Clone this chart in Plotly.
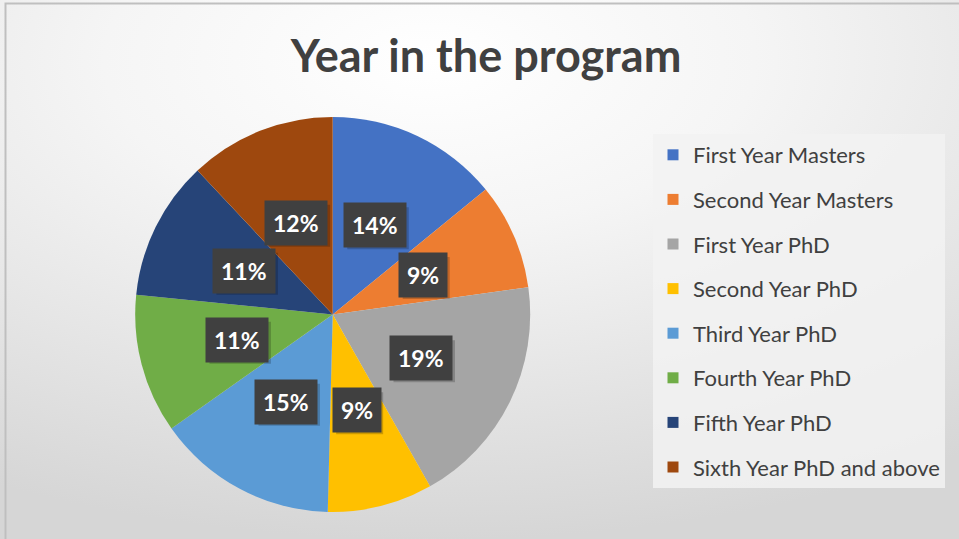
import math

import plotly.graph_objects as go

# -------- data --------
CATEGORIES = [
    "First Year Masters",
    "Second Year Masters",
    "First Year PhD",
    "Second Year PhD",
    "Third Year PhD",
    "Fourth Year PhD",
    "Fifth Year PhD",
    "Sixth Year PhD and above",
]
VALUES = [14.1, 8.7, 19.0, 8.6, 14.8, 11.4, 11.4, 12.0]
COLORS = ["#4472C4", "#ED7D31", "#A5A5A5", "#FFC000", "#5B9BD5", "#70AD47", "#264478", "#9E480E"]

TITLE = "Year in the program"

# -------- geometry (pixels) --------
W, H = 959, 539
CX, CY, R = 332.7, 314.5, 197.5
FONT = "Lato"
FG = "#404040"

total = sum(VALUES)
shares = [v / total for v in VALUES]

fig = go.Figure()

# soft radial backdrop, like the Office chart style
fig.add_trace(
    go.Scatter(
        x=[-500, 1360, 1360, -500, -500],
        y=[-420, -420, 540, 540, -420],
        mode="lines",
        line=dict(width=0),
        fill="toself",
        fillgradient=dict(
            type="radial",
            colorscale=[[0, "#ffffff"], [0.35, "#f5f5f5"], [1, "#d6d6d6"]],
        ),
        hoverinfo="skip",
        showlegend=False,
    )
)

# faint halo behind the pie
fig.add_shape(
    type="circle",
    xref="paper",
    yref="paper",
    x0=(CX - R - 3) / W,
    x1=(CX + R + 4) / W,
    y0=1 - (CY + R + 5) / H,
    y1=1 - (CY - R - 3) / H,
    fillcolor="rgba(0,0,0,0.07)",
    line=dict(width=0),
    layer="below",
)

fig.add_trace(
    go.Pie(
        labels=CATEGORIES,
        values=VALUES,
        sort=False,
        direction="clockwise",
        rotation=0,
        marker=dict(colors=COLORS, line=dict(width=0)),
        textinfo="none",
        hoverinfo="label+percent",
        showlegend=False,
        domain=dict(
            x=[(CX - R) / W, (CX + R) / W],
            y=[1 - (CY + R) / H, 1 - (CY - R) / H],
        ),
    )
)

# legend entries (one group each so the spacing can be opened up)
for cat, col in zip(CATEGORIES, COLORS):
    fig.add_trace(
        go.Scatter(
            x=[None],
            y=[None],
            mode="markers",
            marker=dict(symbol="square", size=11, color=col),
            name=cat,
            legendgroup=cat,
            showlegend=True,
        )
    )

# data labels: dark boxes halfway out along each slice
cum = 0.0
for s in shares:
    mid = (cum + s / 2) * 2 * math.pi
    cum += s
    lx = (CX + 0.5 * R * math.sin(mid)) / W
    ly = 1 - (CY - 0.5 * R * math.cos(mid)) / H
    txt = f"{round(s * 100)}%"
    # drop shadow (pixel-sized rect anchored on the label point)
    half_w = (len(txt) * 14.5 + 18) / 2
    fig.add_shape(
        type="rect", xref="paper", yref="paper",
        xsizemode="pixel", ysizemode="pixel", xanchor=lx, yanchor=ly,
        x0=-half_w + 3, x1=half_w + 3, y0=-21 - 3, y1=21 - 3,
        fillcolor="rgba(0,0,0,0.2)", line=dict(width=0), layer="above",
    )
    fig.add_annotation(
        x=lx, y=ly, xref="paper", yref="paper", text=txt, showarrow=False,
        xanchor="center", yanchor="middle", borderpad=8,
        font=dict(family=FONT, size=23, color="white", weight="bold"),
        bgcolor="#404040",
    )

# chart frame (top / left edges visible)
fig.add_shape(
    type="rect", xref="paper", yref="paper",
    x0=5.5 / W, x1=1.05, y0=-0.05, y1=1 - 3.5 / H,
    line=dict(color="#bfbfbf", width=2), layer="above",
)

fig.update_xaxes(range=[0, W], visible=False, domain=[0, 1], fixedrange=True)
fig.update_yaxes(range=[H, 0], visible=False, domain=[0, 1], fixedrange=True)

fig.update_layout(
    width=W,
    height=H,
    margin=dict(l=0, r=0, t=0, b=0),
    paper_bgcolor="#e6e6e6",
    plot_bgcolor="rgba(0,0,0,0)",
    title=dict(
        text=TITLE,
        x=486 / W,
        xanchor="center",
        y=1 - 56 / H,
        yanchor="middle",
        font=dict(family=FONT, size=45, color=FG, weight="bold"),
    ),
    legend=dict(
        x=653 / W,
        y=1 - 134 / H,
        xanchor="left",
        yanchor="top",
        bgcolor="rgba(242,242,242,0.85)",
        font=dict(family=FONT, size=22, color=FG),
        tracegroupgap=13,
        itemsizing="trace",
    ),
)

fig.write_html(
    "out.html",
    config={"displayModeBar": False},
    post_script="document.body.style.margin='0';document.body.style.overflow='hidden';",
)
